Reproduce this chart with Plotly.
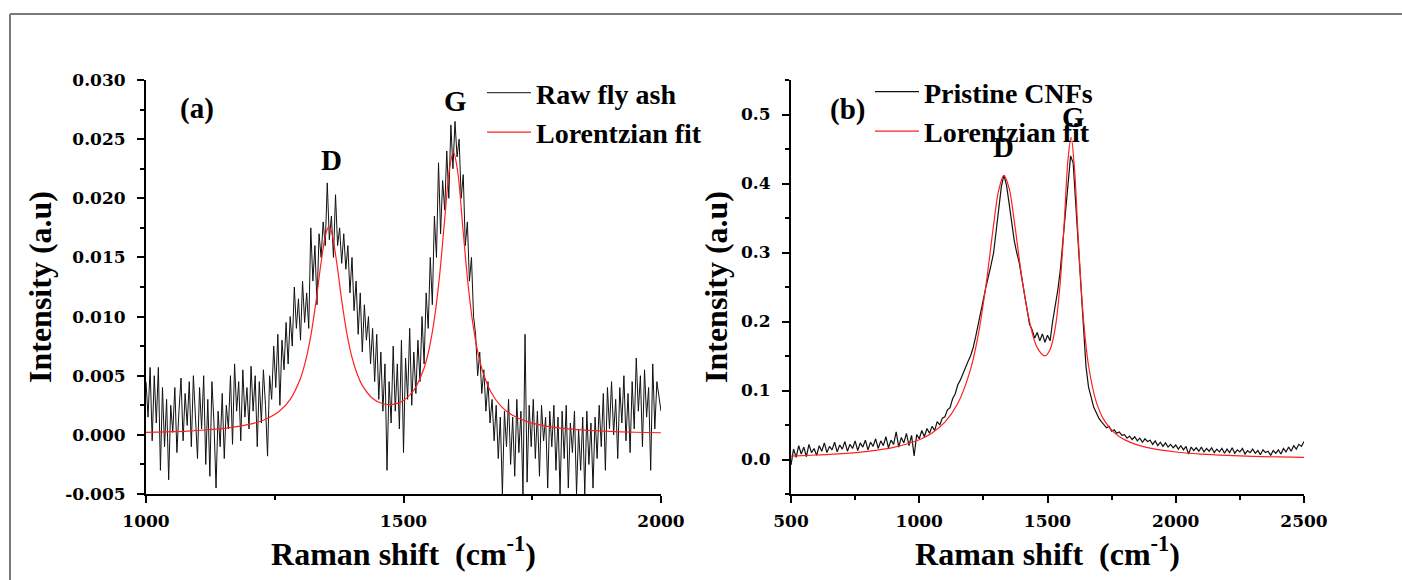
import numpy as np
import plotly.graph_objects as go

# ---------------- data: panel (a) raw fly ash ----------------
shift_a = np.arange(1000, 2001, 4)
raw_fly_ash = [
    0.0045, 0.0015, 0.0057, -0.0005, 0.0050, 0.0010, 0.0057, -0.0030, 0.0040, -0.0010,
    0.0030, -0.0038, 0.0025, 0.0002, 0.0040, -0.0015, 0.0020, 0.0048, -0.0005, 0.0035,
    0.0008, 0.0045, -0.0010, 0.0050, 0.0015, -0.0020, 0.0040, 0.0005, 0.0050, -0.0025,
    0.0030, -0.0035, 0.0045, 0.0010, -0.0045, 0.0020, -0.0010, 0.0035, -0.0020, 0.0025,
    0.0005, 0.0050, -0.0008, 0.0060, 0.0020, 0.0045, -0.0005, 0.0055, 0.0015, 0.0040,
    0.0005, 0.0058, 0.0020, 0.0050, -0.0010, 0.0045, 0.0010, 0.0055, 0.0025, -0.0018,
    0.0050, 0.0030, 0.0075, 0.0040, 0.0085, 0.0025, 0.0080, 0.0055, 0.0095, 0.0060,
    0.0100, 0.0075, 0.0125, 0.0090, 0.0115, 0.0080, 0.0130, 0.0095, 0.0120, 0.0090,
    0.0175, 0.0130, 0.0160, 0.0110, 0.0170, 0.0150, 0.0180, 0.0160, 0.0213, 0.0165,
    0.0185, 0.0150, 0.0203, 0.0160, 0.0175, 0.0145, 0.0170, 0.0140, 0.0160, 0.0120,
    0.0150, 0.0105, 0.0130, 0.0085, 0.0120, 0.0070, 0.0110, 0.0080, 0.0100, 0.0060,
    0.0090, 0.0045, 0.0085, 0.0030, 0.0070, 0.0020, 0.0060, -0.0030, 0.0045, 0.0010,
    0.0075, 0.0020, 0.0060, 0.0005, 0.0080, -0.0015, 0.0065, 0.0030, 0.0090, 0.0025,
    0.0070, 0.0035, 0.0080, 0.0045, 0.0100, 0.0060, 0.0120, 0.0090, 0.0150, 0.0110,
    0.0185, 0.0150, 0.0230, 0.0170, 0.0215, 0.0190, 0.0240, 0.0200, 0.0262, 0.0225,
    0.0265, 0.0235, 0.0250, 0.0200, 0.0220, 0.0160, 0.0180, 0.0130, 0.0150, 0.0100,
    0.0085, 0.0050, 0.0070, 0.0035, 0.0055, 0.0020, 0.0045, 0.0010, 0.0030, -0.0005,
    0.0025, -0.0020, 0.0015, -0.0050, 0.0020, -0.0010, 0.0030, -0.0025, 0.0015, -0.0035,
    0.0030, -0.0015, 0.0020, -0.0050, 0.0085, -0.0040, 0.0025, -0.0010, 0.0030, -0.0020,
    0.0020, -0.0035, 0.0025, -0.0005, 0.0015, -0.0045, 0.0020, -0.0010, 0.0025, -0.0030,
    0.0015, -0.0050, 0.0020, -0.0020, 0.0025, -0.0045, 0.0010, -0.0015, 0.0020, -0.0050,
    0.0005, -0.0030, 0.0015, -0.0050, 0.0020, -0.0025, 0.0010, -0.0045, 0.0015, -0.0020,
    0.0025, -0.0010, 0.0035, -0.0030, 0.0040, 0.0005, 0.0045, 0.0000, 0.0030, -0.0020,
    0.0040, 0.0010, 0.0050, -0.0005, 0.0035, -0.0015, 0.0045, 0.0005, 0.0065, 0.0020,
    0.0050, -0.0010, 0.0055, 0.0015, 0.0040, -0.0030, 0.0060, 0.0005, 0.0045, 0.0030,
    0.0020,
]

# ---------------- data: panel (a) Lorentzian fit ----------------
fit_shift_a = [1000, 1040, 1080, 1120, 1160, 1200, 1230, 1260, 1280, 1300, 1310, 1320,
               1330, 1340, 1350, 1355, 1360, 1370, 1380, 1390, 1400, 1410, 1420, 1440,
               1460, 1480, 1500, 1520, 1540, 1550, 1560, 1570, 1580, 1590, 1597, 1605,
               1615, 1625, 1635, 1645, 1655, 1670, 1690, 1710, 1740, 1780, 1820, 1860,
               1900, 1950, 2000]
fit_a = [0.00021, 0.00026, 0.00032, 0.00043, 0.00059, 0.00088, 0.00128, 0.00204, 0.00300,
         0.00479, 0.00627, 0.00837, 0.01122, 0.01457, 0.01715, 0.01756, 0.01718, 0.01466,
         0.01137, 0.00858, 0.00655, 0.00514, 0.00418, 0.00308, 0.00263, 0.00258, 0.00291,
         0.00377, 0.00565, 0.00731, 0.00980, 0.01344, 0.01823, 0.02271, 0.02391, 0.02233,
         0.01762, 0.01287, 0.00930, 0.00685, 0.00519, 0.00360, 0.00239, 0.00170, 0.00112,
         0.00072, 0.00051, 0.00038, 0.00029, 0.00022, 0.00018]

# ---------------- data: panel (b) pristine CNFs ----------------
shift_b = np.arange(500, 2501, 10)
pristine_cnfs = [
    -0.008, 0.015, 0.003, 0.020, 0.008, 0.018, 0.004, 0.022, 0.010, 0.016,
    0.006, 0.020, 0.012, 0.024, 0.010, 0.019, 0.014, 0.025, 0.011, 0.021,
    0.015, 0.026, 0.012, 0.022, 0.016, 0.027, 0.013, 0.024, 0.018, 0.028,
    0.014, 0.025, 0.019, 0.030, 0.016, 0.027, 0.020, 0.033, 0.017, 0.028,
    0.022, 0.040, 0.018, 0.032, 0.024, 0.038, 0.020, 0.035, 0.005, 0.036,
    0.030, 0.042, 0.033, 0.045, 0.038, 0.048, 0.042, 0.055, 0.050, 0.060,
    0.062, 0.072, 0.075, 0.088, 0.095, 0.108, 0.115, 0.125, 0.135, 0.142,
    0.150, 0.162, 0.178, 0.198, 0.215, 0.232, 0.250, 0.265, 0.282, 0.300,
    0.330, 0.362, 0.395, 0.412, 0.398, 0.372, 0.345, 0.318, 0.300, 0.285,
    0.262, 0.240, 0.218, 0.196, 0.188, 0.176, 0.184, 0.172, 0.182, 0.170,
    0.180, 0.172, 0.200, 0.222, 0.245, 0.275, 0.315, 0.360, 0.400, 0.440,
    0.430, 0.370, 0.300, 0.240, 0.178, 0.135, 0.105, 0.088, 0.076, 0.068,
    0.060, 0.055, 0.050, 0.046, 0.048, 0.041, 0.043, 0.038, 0.040, 0.035,
    0.036, 0.031, 0.034, 0.029, 0.033, 0.027, 0.031, 0.025, 0.030, 0.026,
    0.028, 0.022, 0.027, 0.020, 0.025, 0.019, 0.024, 0.018, 0.022, 0.017,
    0.021, 0.015, 0.020, 0.014, 0.019, 0.008, 0.018, 0.013, 0.017, 0.012,
    0.018, 0.011, 0.016, 0.012, 0.017, 0.010, 0.015, 0.011, 0.016, 0.009,
    0.015, 0.010, 0.017, 0.009, 0.014, 0.011, 0.016, 0.008, 0.013, 0.010,
    0.015, 0.009, 0.013, 0.007, 0.014, 0.010, 0.012, 0.006, 0.013, 0.009,
    0.014, 0.008, 0.016, 0.011, 0.018, 0.012, 0.020, 0.015, 0.022, 0.019,
    0.026,
]

# ---------------- data: panel (b) Lorentzian fit ----------------
fit_shift_b = [500, 600, 700, 800, 900, 1000, 1050, 1100, 1150, 1200, 1230, 1260, 1290,
               1310, 1330, 1350, 1370, 1400, 1430, 1460, 1490, 1510, 1530, 1550, 1565,
               1580, 1592, 1605, 1620, 1640, 1660, 1690, 1720, 1760, 1800, 1850, 1900,
               2000, 2100, 2200, 2300, 2400, 2500]
fit_b = [0.0050, 0.0065, 0.0085, 0.0119, 0.0176, 0.0286, 0.0385, 0.0541, 0.0811, 0.1307,
         0.1806, 0.2523, 0.3405, 0.3907, 0.4117, 0.3936, 0.3466, 0.2639, 0.2000, 0.1621,
         0.1502, 0.1595, 0.1904, 0.2581, 0.3421, 0.4351, 0.4668, 0.4226, 0.3198, 0.2046,
         0.1362, 0.0835, 0.0574, 0.0390, 0.0288, 0.0212, 0.0164, 0.0109, 0.0078, 0.0059,
         0.0046, 0.0037, 0.0031]

# ---------------- tick labels ----------------
ytick_vals_a = [-0.005, 0.0, 0.005, 0.010, 0.015, 0.020, 0.025, 0.030]
ytick_text_a = ["-0.005", "0.000", "0.005", "0.010", "0.015", "0.020", "0.025", "0.030"]
xtick_vals_a = [1000, 1500, 2000]
ytick_vals_b = [0.0, 0.1, 0.2, 0.3, 0.4, 0.5]
ytick_text_b = ["0.0", "0.1", "0.2", "0.3", "0.4", "0.5"]
xtick_vals_b = [500, 1000, 1500, 2000, 2500]

# ---------------- styling ----------------
W, H = 1402, 580
SERIF = "Liberation Serif"
TICKFONT = dict(family="DejaVu Serif", size=17, color="black", weight="bold")
TITLEFONT = dict(family=SERIF, size=32, color="black", weight="bold")
LEGFONT = dict(family=SERIF, size=28, color="black", weight="bold")
ANNFONT = dict(family=SERIF, size=29, color="black", weight="bold")

fig = go.Figure()
fig.add_trace(go.Scatter(x=shift_a, y=raw_fly_ash, mode="lines", name="Raw fly ash",
                         line=dict(color="#111111", width=1), xaxis="x", yaxis="y",
                         legend="legend"))
fig.add_trace(go.Scatter(x=fit_shift_a, y=fit_a, mode="lines", name="Lorentzian fit",
                         line=dict(color="#ff2020", width=1.2, shape="spline"),
                         xaxis="x", yaxis="y", legend="legend"))
fig.add_trace(go.Scatter(x=shift_b, y=pristine_cnfs, mode="lines", name="Pristine CNFs",
                         line=dict(color="#111111", width=1.2), xaxis="x2", yaxis="y2",
                         legend="legend2"))
fig.add_trace(go.Scatter(x=fit_shift_b, y=fit_b, mode="lines", name="Lorentzian fit",
                         line=dict(color="#ff2020", width=1.2, shape="spline"),
                         xaxis="x2", yaxis="y2", legend="legend2"))

def px_x(p):
    return p / W

def px_y(p):
    return 1 - p / H

axis_common = dict(showline=True, linecolor="black", linewidth=2, ticks="outside",
                   ticklen=7, tickwidth=2, tickcolor="black", showgrid=False,
                   zeroline=False, tickfont=TICKFONT, mirror=False, automargin=False)

ydom = [px_y(494), px_y(80)]

fig.update_layout(
    width=W, height=H, margin=dict(l=0, r=0, t=0, b=0, pad=0, autoexpand=False),
    paper_bgcolor="white", plot_bgcolor="white",
    xaxis=dict(domain=[px_x(146), px_x(661)], range=[1000, 2000], anchor="y",
               tickvals=xtick_vals_a, ticklabelstandoff=4,
               minor=dict(dtick=250, tick0=1000, ticks="outside", ticklen=4,
                          tickwidth=1.5, tickcolor="black"),
               title=dict(text="Raman shift  (cm<sup>-1</sup>)", font=TITLEFONT, standoff=1),
               **axis_common),
    yaxis=dict(domain=ydom, range=[-0.005, 0.030], anchor="x",
               tickmode="array", tickvals=ytick_vals_a, ticktext=ytick_text_a,
               ticklabelstandoff=8,
               minor=dict(dtick=0.0025, tick0=0, ticks="outside", ticklen=4,
                          tickwidth=1.5, tickcolor="black"),
               title=dict(text="Intensity (a.u)", font=TITLEFONT, standoff=4),
               **axis_common),
    xaxis2=dict(domain=[px_x(791), px_x(1304)], range=[500, 2500], anchor="y2",
                tickvals=xtick_vals_b, ticklabelstandoff=4,
                minor=dict(dtick=250, tick0=500, ticks="outside", ticklen=4,
                           tickwidth=1.5, tickcolor="black"),
                title=dict(text="Raman shift  (cm<sup>-1</sup>)", font=TITLEFONT, standoff=1),
                **axis_common),
    yaxis2=dict(domain=ydom, range=[-0.05, 0.55], anchor="x2",
                tickmode="array", tickvals=ytick_vals_b, ticktext=ytick_text_b,
                ticklabelstandoff=8,
                minor=dict(dtick=0.05, tick0=0, ticks="outside", ticklen=4,
                           tickwidth=1.5, tickcolor="black"),
                title=dict(text="Intensity (a.u)", font=TITLEFONT, standoff=4),
                **axis_common),
    legend=dict(x=px_x(482), y=px_y(68), xanchor="left", yanchor="top",
                bgcolor="rgba(0,0,0,0)", font=LEGFONT, itemwidth=44,
                tracegroupgap=0),
    legend2=dict(x=px_x(870), y=px_y(67), xanchor="left", yanchor="top",
                 bgcolor="rgba(0,0,0,0)", font=LEGFONT, itemwidth=44,
                 tracegroupgap=0),
    showlegend=True,
    annotations=[
        dict(text="(a)", x=0.062, y=0.976, xref="x domain", yref="y domain",
             showarrow=False, font=ANNFONT),
        dict(text="D", x=1361, y=0.0232, xref="x", yref="y", showarrow=False, font=ANNFONT),
        dict(text="G", x=1600, y=0.0282, xref="x", yref="y", showarrow=False, font=ANNFONT),
        dict(text="(b)", x=0.072, y=0.973, xref="x2 domain", yref="y2 domain",
             showarrow=False, font=ANNFONT),
        dict(text="D", x=1330, y=0.453, xref="x2", yref="y2", showarrow=False, font=ANNFONT),
        dict(text="G", x=1603, y=0.497, xref="x2", yref="y2", showarrow=False, font=ANNFONT),
    ],
    shapes=[
        dict(type="line", xref="paper", yref="paper", x0=px_x(10), x1=1.0,
             y0=px_y(14), y1=px_y(14), line=dict(color="#7a7a7a", width=2)),
        dict(type="line", xref="paper", yref="paper", x0=px_x(10), x1=px_x(10),
             y0=px_y(14), y1=0.0, line=dict(color="#7a7a7a", width=2)),
    ],
)

fig.write_html("out.html")
